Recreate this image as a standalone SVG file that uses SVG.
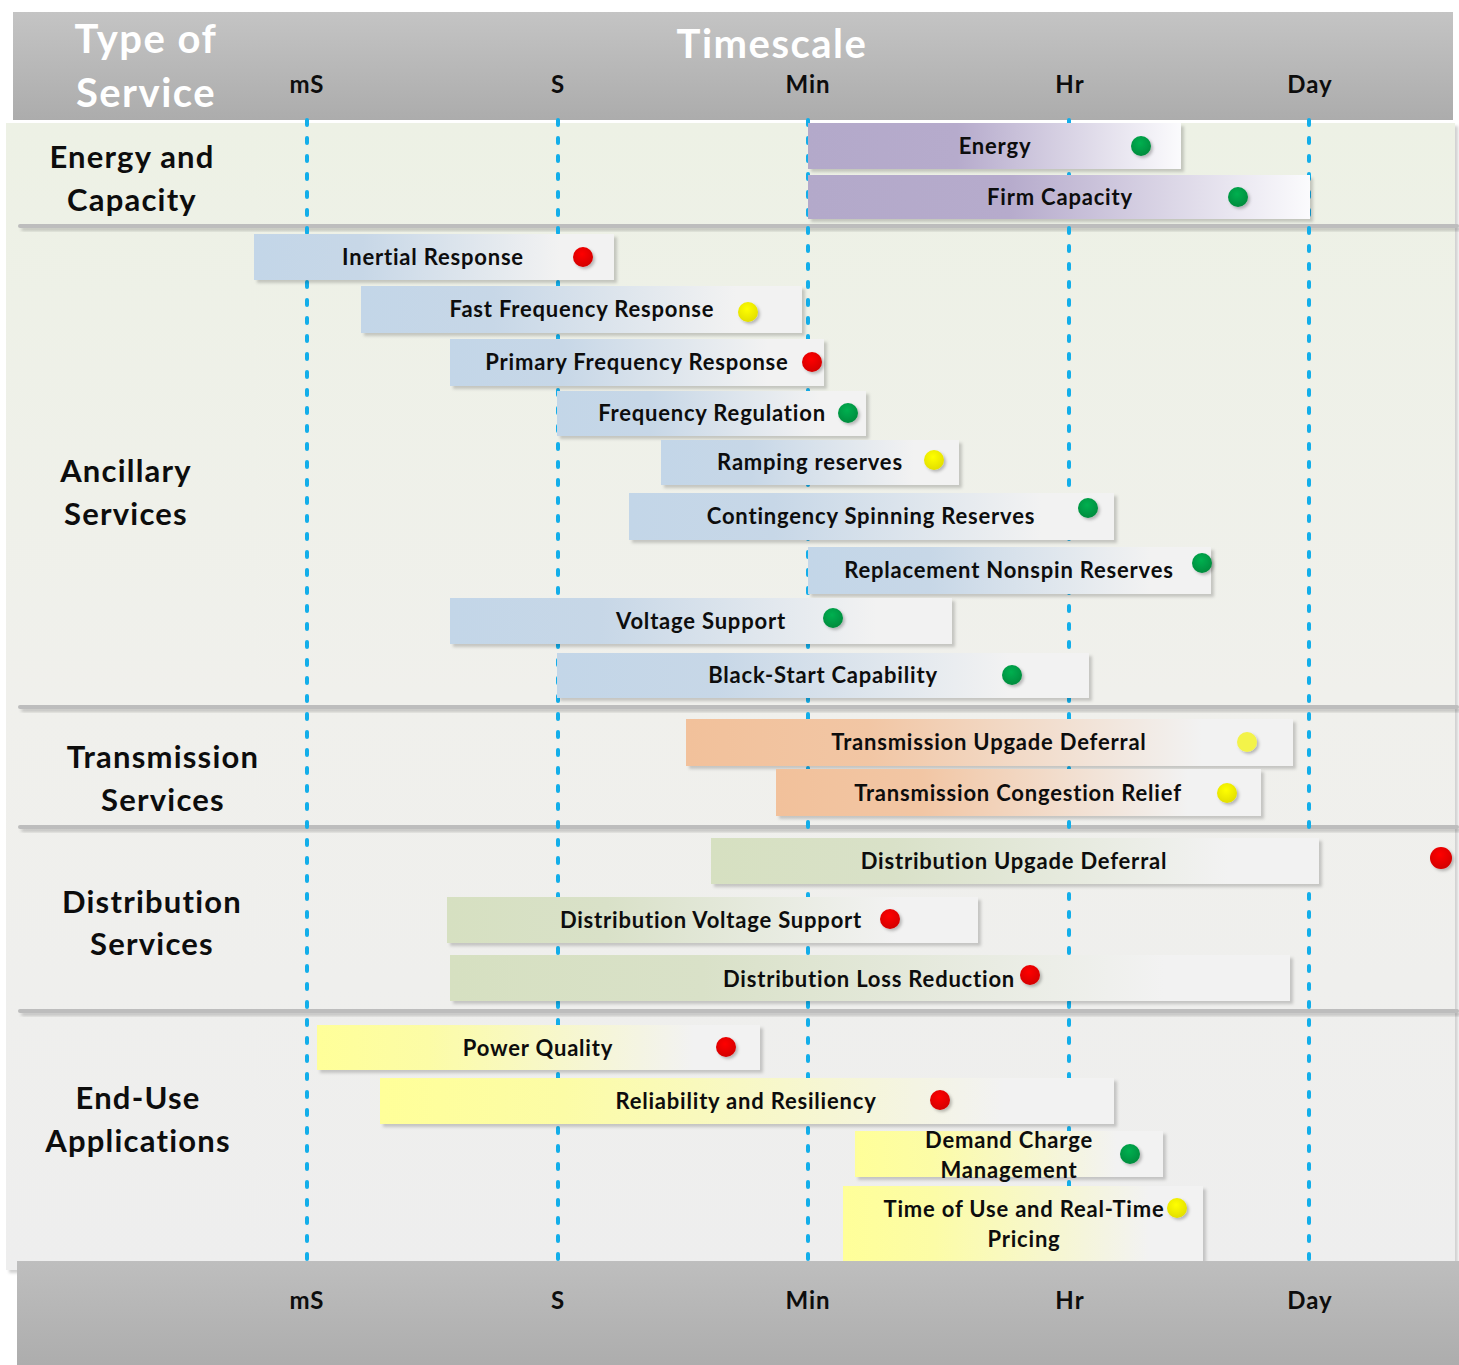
<svg xmlns="http://www.w3.org/2000/svg" width="1459" height="1365" viewBox="0 0 1459 1365">
<style>
.bl{font-family:Lato,"Open Sans","DejaVu Sans",sans-serif;font-weight:bold;font-size:22px;letter-spacing:0.8px;fill:#0d0d0d;text-anchor:middle}
.sec{font-family:Lato,"Open Sans","DejaVu Sans",sans-serif;font-weight:bold;font-size:31px;letter-spacing:1.2px;fill:#0d0d0d;text-anchor:middle}
.tick{font-family:Lato,"Open Sans","DejaVu Sans",sans-serif;font-weight:bold;font-size:24px;letter-spacing:1px;fill:#0d0d0d;text-anchor:middle}
.hd{font-family:Lato,"Open Sans","DejaVu Sans",sans-serif;font-weight:bold;font-size:40px;letter-spacing:1.5px;fill:#ffffff;text-anchor:middle}
.grid{stroke:#12aeea;stroke-width:4;stroke-dasharray:5 13;stroke-linecap:round;fill:none}
.sep{fill:#bdbdbd;filter:url(#sh)}
.bar{filter:url(#sh)}
.pu{fill:url(#gPu)}.bu{fill:url(#gBu)}.or{fill:url(#gOr)}.gr{fill:url(#gGr)}.ye{fill:url(#gYe)}
.dg{fill:url(#dG);filter:url(#dsh)}.dr{fill:url(#dR);filter:url(#dsh)}.dy{fill:url(#dY);filter:url(#dsh)}.dy2{fill:#f3f34a;filter:url(#dsh)}
</style>
<defs>
<filter id="sh" x="-5%" y="-50%" width="115%" height="250%"><feDropShadow dx="3" dy="3" stdDeviation="1.5" flood-color="#000" flood-opacity="0.18"/></filter>
<filter id="dsh" x="-50%" y="-50%" width="200%" height="200%"><feDropShadow dx="2" dy="2" stdDeviation="1.5" flood-color="#000" flood-opacity="0.25"/></filter>
<linearGradient id="hdG" x1="0" y1="0" x2="0" y2="1"><stop offset="0" stop-color="#c4c4c4"/><stop offset="1" stop-color="#acacac"/></linearGradient>
<linearGradient id="ftG" x1="0" y1="0" x2="0" y2="1"><stop offset="0" stop-color="#bebebe"/><stop offset="1" stop-color="#adadad"/></linearGradient>
<linearGradient id="bgG" x1="0" y1="0" x2="0" y2="1"><stop offset="0" stop-color="#edf1e5"/><stop offset="0.5" stop-color="#f0f0ec"/><stop offset="1" stop-color="#eeeeee"/></linearGradient>
<linearGradient id="gPu" x1="0" y1="0" x2="1" y2="0"><stop offset="0" stop-color="#b3a9ca"/><stop offset="0.4" stop-color="#b6abcc"/><stop offset="1" stop-color="#fbfbfd"/></linearGradient>
<linearGradient id="gBu" x1="0" y1="0" x2="1" y2="0"><stop offset="0" stop-color="#c3d6e8"/><stop offset="0.3" stop-color="#c7d7e7"/><stop offset="0.85" stop-color="#f2f2f2"/></linearGradient>
<linearGradient id="gOr" x1="0" y1="0" x2="1" y2="0"><stop offset="0" stop-color="#f2c19b"/><stop offset="0.3" stop-color="#f2c6a4"/><stop offset="0.85" stop-color="#f2f2f2"/></linearGradient>
<linearGradient id="gGr" x1="0" y1="0" x2="1" y2="0"><stop offset="0" stop-color="#d6e0c1"/><stop offset="0.3" stop-color="#d9e1c8"/><stop offset="0.85" stop-color="#f2f2f2"/></linearGradient>
<linearGradient id="gYe" x1="0" y1="0" x2="1" y2="0"><stop offset="0" stop-color="#ffff99"/><stop offset="0.25" stop-color="#fcfca6"/><stop offset="0.85" stop-color="#f2f2f2"/></linearGradient>
<radialGradient id="dG" cx="0.45" cy="0.35" r="0.7"><stop offset="0" stop-color="#00b050"/><stop offset="1" stop-color="#00893c"/></radialGradient>
<radialGradient id="dR" cx="0.45" cy="0.35" r="0.7"><stop offset="0" stop-color="#ff0000"/><stop offset="1" stop-color="#d00000"/></radialGradient>
<radialGradient id="dY" cx="0.45" cy="0.35" r="0.7"><stop offset="0" stop-color="#ffff00"/><stop offset="1" stop-color="#e0dc00"/></radialGradient>
</defs>

<rect x="0" y="0" width="1459" height="1365" fill="#ffffff"/>
<rect x="6" y="123" width="1449" height="1147" fill="url(#bgG)" filter="url(#sh)"/>

<g id="header">
<rect x="13" y="12" width="1440" height="108" fill="url(#hdG)"/>
<text class="hd" x="146" y="53">Type of</text>
<text class="hd" x="146" y="107">Service</text>
<text class="hd" x="772" y="58">Timescale</text>
<text class="tick" x="307" y="93">mS</text>
<text class="tick" x="558" y="93">S</text>
<text class="tick" x="808" y="93">Min</text>
<text class="tick" x="1070" y="93">Hr</text>
<text class="tick" x="1310" y="93">Day</text>
</g>

<g id="separators">
<rect class="sep" x="18" y="224" width="1441" height="4" rx="2"/>
<rect class="sep" x="18" y="705" width="1441" height="4" rx="2"/>
<rect class="sep" x="18" y="825" width="1441" height="4" rx="2"/>
<rect class="sep" x="18" y="1009" width="1441" height="4" rx="2"/>
</g>

<g id="gridlines">
<line class="grid" x1="307" y1="120" x2="307" y2="1262"/>
<line class="grid" x1="558" y1="120" x2="558" y2="1262"/>
<line class="grid" x1="808" y1="120" x2="808" y2="1262"/>
<line class="grid" x1="1069" y1="120" x2="1069" y2="1262"/>
<line class="grid" x1="1309" y1="120" x2="1309" y2="1262"/>
</g>

<g id="sections">
<text class="sec" x="132" y="168">Energy and</text>
<text class="sec" x="132" y="211">Capacity</text>
<text class="sec" x="126" y="482">Ancillary</text>
<text class="sec" x="126" y="525">Services</text>
<text class="sec" x="163" y="768">Transmission</text>
<text class="sec" x="163" y="811">Services</text>
<text class="sec" x="152" y="913">Distribution</text>
<text class="sec" x="152" y="955">Services</text>
<text class="sec" x="138" y="1109">End-Use</text>
<text class="sec" x="138" y="1152">Applications</text>
</g>

<g id="energy"><rect class="bar pu" x="808" y="123" width="373" height="46"/><text class="bl" x="995" y="154">Energy</text><circle class="dg" cx="1141" cy="146" r="10"/></g>
<g id="firm-capacity"><rect class="bar pu" x="808" y="175" width="502" height="44"/><text class="bl" x="1060" y="205">Firm Capacity</text><circle class="dg" cx="1238" cy="197" r="10"/></g>

<g id="inertial-response"><rect class="bar bu" x="254" y="234" width="360" height="46"/><text class="bl" x="433" y="265">Inertial Response</text><circle class="dr" cx="583" cy="257" r="10"/></g>
<g id="fast-frequency-response"><rect class="bar bu" x="361" y="286" width="441" height="47"/><text class="bl" x="582" y="317">Fast Frequency Response</text><circle class="dy" cx="748" cy="312" r="10"/></g>
<g id="primary-frequency-response"><rect class="bar bu" x="450" y="339" width="374" height="47"/><text class="bl" x="637" y="370">Primary Frequency Response</text><circle class="dr" cx="812" cy="362" r="10"/></g>
<g id="frequency-regulation"><rect class="bar bu" x="557" y="391" width="309" height="45"/><text class="bl" x="712" y="421">Frequency Regulation</text><circle class="dg" cx="848" cy="413" r="10"/></g>
<g id="ramping-reserves"><rect class="bar bu" x="661" y="440" width="298" height="45"/><text class="bl" x="810" y="470">Ramping reserves</text><circle class="dy" cx="934" cy="460" r="10"/></g>
<g id="contingency-spinning-reserves"><rect class="bar bu" x="629" y="493" width="485" height="47"/><text class="bl" x="871" y="524">Contingency Spinning Reserves</text><circle class="dg" cx="1088" cy="508" r="10"/></g>
<g id="replacement-nonspin-reserves"><rect class="bar bu" x="808" y="547" width="403" height="47"/><text class="bl" x="1009" y="578">Replacement Nonspin Reserves</text><circle class="dg" cx="1202" cy="563" r="10"/></g>
<g id="voltage-support"><rect class="bar bu" x="450" y="598" width="502" height="46"/><text class="bl" x="701" y="629">Voltage Support</text><circle class="dg" cx="833" cy="618" r="10"/></g>
<g id="black-start-capability"><rect class="bar bu" x="557" y="653" width="532" height="45"/><text class="bl" x="823" y="683">Black-Start Capability</text><circle class="dg" cx="1012" cy="675" r="10"/></g>

<g id="transmission-upgade-deferral"><rect class="bar or" x="686" y="719" width="607" height="47"/><text class="bl" x="989" y="750">Transmission Upgade Deferral</text><circle class="dy2" cx="1247" cy="742" r="10"/></g>
<g id="transmission-congestion-relief"><rect class="bar or" x="776" y="769" width="485" height="47"/><text class="bl" x="1018" y="801">Transmission Congestion Relief</text><circle class="dy" cx="1227" cy="793" r="10"/></g>

<g id="distribution-upgade-deferral"><rect class="bar gr" x="711" y="838" width="608" height="46"/><text class="bl" x="1014" y="869">Distribution Upgade Deferral</text><circle class="dr" cx="1441" cy="858" r="11"/></g>
<g id="distribution-voltage-support"><rect class="bar gr" x="447" y="897" width="531" height="46"/><text class="bl" x="711" y="928">Distribution Voltage Support</text><circle class="dr" cx="890" cy="919" r="10"/></g>
<g id="distribution-loss-reduction"><rect class="bar gr" x="450" y="955" width="840" height="46"/><text class="bl" x="869" y="987">Distribution Loss Reduction</text><circle class="dr" cx="1030" cy="975" r="10"/></g>

<g id="power-quality"><rect class="bar ye" x="317" y="1025" width="443" height="45"/><text class="bl" x="538" y="1056">Power Quality</text><circle class="dr" cx="726" cy="1047" r="10"/></g>
<g id="reliability-and-resiliency"><rect class="bar ye" x="380" y="1078" width="734" height="46"/><text class="bl" x="746" y="1109">Reliability and Resiliency</text><circle class="dr" cx="940" cy="1100" r="10"/></g>
<g id="demand-charge-management"><rect class="bar ye" x="855" y="1131" width="308" height="46"/><text class="bl" x="1009" y="1148">Demand Charge</text><text class="bl" x="1009" y="1178">Management</text><circle class="dg" cx="1130" cy="1154" r="10"/></g>
<g id="time-of-use-pricing"><rect class="bar ye" x="843" y="1186" width="360" height="80"/><text class="bl" x="1024" y="1217">Time of Use and Real-Time</text><text class="bl" x="1024" y="1247">Pricing</text><circle class="dy" cx="1177" cy="1208" r="10"/></g>

<g id="footer">
<rect x="17" y="1261" width="1442" height="104" fill="url(#ftG)"/>
<text class="tick" x="307" y="1309">mS</text>
<text class="tick" x="558" y="1309">S</text>
<text class="tick" x="808" y="1309">Min</text>
<text class="tick" x="1070" y="1309">Hr</text>
<text class="tick" x="1310" y="1309">Day</text>
</g>
</svg>
